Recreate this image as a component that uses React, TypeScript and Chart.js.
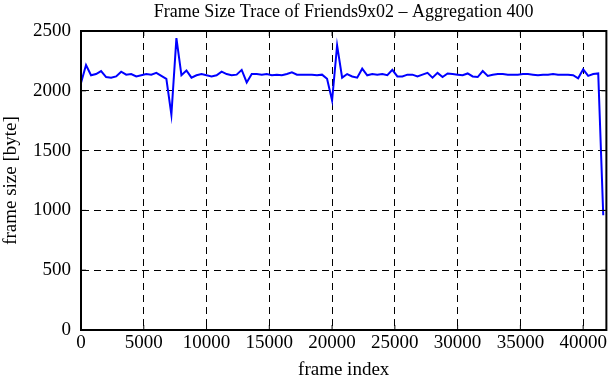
import React, { useEffect, useRef } from "react";
import { Chart, registerables } from "chart.js";

Chart.register(...registerables);

const TITLE = "Frame Size Trace of Friends9x02 \u2013 Aggregation 400";
const X_LABEL = "frame index";
const Y_LABEL = "frame size [byte]";
const AGG = 400;
const X_MAX = 41850;
const Y_MAX = 2500;
const X_TICKS = [0, 5000, 10000, 15000, 20000, 25000, 30000, 35000, 40000];
const Y_TICKS = [0, 500, 1000, 1500, 2000, 2500];

const frameSizes: number[] = [
  2065, 2215, 2130, 2140, 2165, 2115, 2110, 2120, 2160, 2135,
  2140, 2120, 2130, 2140, 2135, 2150, 2125, 2100, 1800, 2440,
  2130, 2170, 2110, 2130, 2140, 2130, 2120, 2130, 2160, 2140,
  2130, 2135, 2175, 2070, 2140, 2140, 2135, 2140, 2130, 2135,
  2130, 2140, 2155, 2135, 2135, 2135, 2135, 2130, 2135, 2100,
  1920, 2380, 2110, 2140, 2120, 2110, 2185, 2130, 2140, 2135,
  2140, 2130, 2175, 2120, 2120, 2135, 2135, 2120, 2135, 2150,
  2110, 2150, 2115, 2145, 2140, 2135, 2130, 2145, 2120, 2115,
  2165, 2125, 2135, 2140, 2140, 2135, 2135, 2135, 2140, 2140,
  2135, 2130, 2135, 2135, 2140, 2135, 2135, 2135, 2130, 2105,
  2180, 2125, 2140, 2145, 960,
];

const FONT = "'Liberation Serif', 'DejaVu Serif', serif";
const FS = 19;
const TITLE_FS = 18;

const framePlugin = {
  id: "frameTicks",
  afterDraw(chart: any) {
    const { ctx, chartArea, scales } = chart;
    const { left, right, top, bottom } = chartArea;
    ctx.save();
    ctx.strokeStyle = "#000";
    ctx.setLineDash([]);
    ctx.lineWidth = 1;
    const len = 5;
    scales.x.ticks.forEach((t: any) => {
      const px = scales.x.getPixelForValue(t.value);
      ctx.beginPath();
      ctx.moveTo(px, bottom);
      ctx.lineTo(px, bottom - len);
      ctx.moveTo(px, top);
      ctx.lineTo(px, top + len);
      ctx.stroke();
    });
    scales.y.ticks.forEach((t: any) => {
      const py = scales.y.getPixelForValue(t.value);
      ctx.beginPath();
      ctx.moveTo(left, py);
      ctx.lineTo(left + len, py);
      ctx.moveTo(right, py);
      ctx.lineTo(right - len, py);
      ctx.stroke();
    });
    ctx.lineWidth = 2;
    ctx.strokeRect(left, top, right - left, bottom - top);
    // title centred over the plot area
    ctx.fillStyle = "#000";
    ctx.font = `${TITLE_FS}px ${FONT}`;
    ctx.textAlign = "center";
    ctx.textBaseline = "alphabetic";
    ctx.fillText(TITLE, (left + right) / 2, top - 14);
    ctx.restore();
  },
};

export default function App() {
  const ref = useRef<HTMLCanvasElement>(null);
  useEffect(() => {
    document.body.style.margin = "0";
    const points = frameSizes.map((v, i) => ({ x: i * AGG, y: v }));
    const chart = new Chart(ref.current!, {
      type: "line",
      data: {
        datasets: [
          {
            data: points,
            borderColor: "#0000ff",
            borderWidth: 2,
            pointRadius: 0,
            tension: 0,
            fill: false,
          },
        ],
      },
      options: {
        animation: false,
        responsive: false,
        devicePixelRatio: 1,
        layout: { padding: { left: 0, right: 2, top: 31, bottom: 0 } },
        plugins: {
          legend: { display: false },
          tooltip: { enabled: false },
          title: { display: false },
        },
        scales: {
          x: {
            type: "linear",
            min: 0,
            max: X_MAX,
            afterBuildTicks: (s: any) => {
              s.ticks = X_TICKS.map((v) => ({ value: v }));
            },
            afterFit: (s: any) => {
              s.height = 50;
            },
            ticks: {
              color: "#000",
              font: { family: FONT, size: FS, lineHeight: 1 },
              padding: 4,
              maxRotation: 0,
              autoSkip: false,
              callback: (v: any) => String(v),
            },
            grid: { color: "#000", lineWidth: 1, drawTicks: false },
            border: { display: true, color: "#000", width: 2, dash: [7, 5] },
            title: {
              display: true,
              text: X_LABEL,
              color: "#000",
              font: { family: FONT, size: FS, lineHeight: 1 },
              padding: { top: 6, bottom: 0 },
            },
          },
          y: {
            type: "linear",
            min: 0,
            max: Y_MAX,
            afterBuildTicks: (s: any) => {
              s.ticks = Y_TICKS.map((v) => ({ value: v }));
            },
            afterFit: (s: any) => {
              s.width = 81;
            },
            ticks: {
              color: "#000",
              font: { family: FONT, size: FS, lineHeight: 1 },
              padding: 10,
              callback: (v: any) => String(v),
            },
            grid: { color: "#000", lineWidth: 1, drawTicks: false },
            border: { display: true, color: "#000", width: 2, dash: [7, 5] },
            title: {
              display: true,
              text: Y_LABEL,
              color: "#000",
              font: { family: FONT, size: FS, lineHeight: 1 },
              padding: { top: 2, bottom: 4 },
            },
          },
        },
      },
      plugins: [framePlugin],
    });
    return () => chart.destroy();
  }, []);
  return (
    <div style={{ width: 611, height: 380, background: "#fff" }}>
      <canvas ref={ref} width={611} height={380} />
    </div>
  );
}
